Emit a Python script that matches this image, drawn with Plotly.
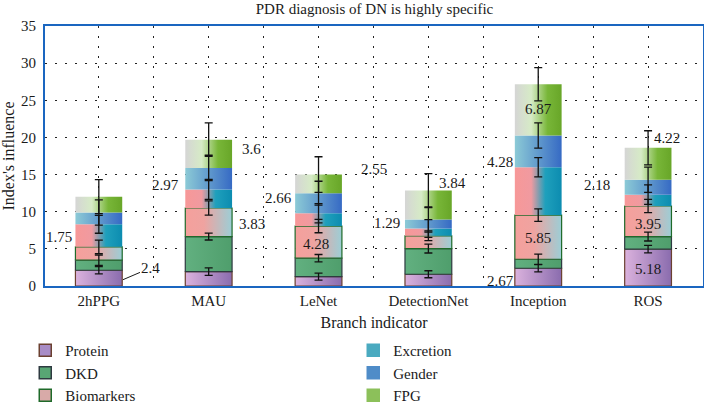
import plotly.graph_objects as go

# categories and stacked segment values (bottom -> top)
categories = ['2hPPG', 'MAU', 'LeNet', 'DetectionNet', 'Inception', 'ROS']
protein = [2.12, 1.93, 1.26, 1.58, 2.39, 4.96]
dkd = [1.35, 4.73, 2.48, 3.46, 1.21, 1.70]
biomarkers = [1.80, 3.84, 4.33, 1.72, 5.95, 4.11]
excretion = [3.03, 2.50, 1.73, 0.98, 6.44, 1.53]
gender = [1.60, 2.90, 2.70, 1.22, 4.28, 2.00]
fpg = [2.13, 3.80, 2.50, 3.88, 6.89, 4.30]

# error bar half-lengths at top of each segment
protein_err = [0.50, 0.50, 0.47, 0.47, 0.50, 0.50]
dkd_err = [0.70, 0.47, 0.50, 0.60, 0.68, 0.60]
biomarkers_err = [0.90, 0.95, 0.90, 0.65, 0.84, 0.90]
excretion_err = [1.20, 1.35, 1.30, 1.20, 1.30, 1.30]
gender_err = [1.70, 1.70, 1.60, 1.70, 1.70, 1.70]
fpg_err = [2.30, 2.25, 2.40, 2.30, 2.25, 2.30]

# value labels as printed on the chart
label_text = ['1.75', '3.6', '2.97', '3.83', '2.66', '4.28', '2.55', '3.84', '1.29',
              '6.87', '4.28', '5.85', '2.67', '4.22', '2.18', '3.95', '5.18']
label_x = [-0.364, 1.393, 0.61, 1.393, 1.64, 1.976, 2.505, 3.224, 2.623,
           4.0, 3.652, 4.0, 3.652, 5.17, 4.535, 5.0, 5.0]
label_y = [6.6, 18.4, 13.65, 8.4, 11.9, 5.7, 15.8, 13.8, 8.5,
           23.8, 16.75, 6.5, 0.68, 19.9, 13.65, 8.4, 2.3]

FONT = 'Liberation Serif, Times New Roman, serif'
half_w = 0.213

series = [
    ('Protein', protein, protein_err, [[0, '#dbb2dd'], [1, '#8a6cae']], '#6b4030', '#a88cc6'),
    ('DKD', dkd, dkd_err, [[0, '#62b080'], [1, '#4f9e6c']], '#2e3a40', '#58a674'),
    ('Biomarkers', biomarkers, biomarkers_err,
     [[0, '#f5a09c'], [0.4, '#efa3a0'], [1, '#9cced6']], '#1f6a2a', '#d8aaa8'),
    ('Excretion', excretion, excretion_err,
     [[0, '#f79898'], [0.35, '#f09aa0'], [0.65, '#1fa0bc'], [1, '#0c8cb0']], None, '#4aaac0'),
    ('Gender', gender, gender_err, [[0, '#8ccad6'], [1, '#366ac4']], None, '#4f8cc8'),
    ('FPG', fpg, fpg_err,
     [[0, '#d5d5d5'], [0.35, '#d6ebc6'], [0.7, '#78b638'], [1, '#68a628']], None, '#8cc05a'),
]

xs = list(range(len(categories)))
fig = go.Figure()

base = [0.0] * len(categories)
tops = []
for name, vals, errs, cscale, border, solid in series:
    for i, v in enumerate(vals):
        x0, x1 = xs[i] - half_w, xs[i] + half_w
        y0, y1 = base[i], base[i] + v
        fig.add_trace(go.Scatter(
            x=[x0, x1, x1, x0, x0], y=[y0, y0, y1, y1, y0],
            mode='lines', fill='toself',
            fillgradient=dict(type='horizontal', colorscale=cscale),
            line=dict(color=border if border else 'rgba(0,0,0,0)', width=1.2 if border else 0),
            showlegend=False, hoverinfo='skip'))
    base = [b + v for b, v in zip(base, vals)]
    tops.append((list(base), errs))

for top, errs in tops:
    fig.add_trace(go.Scatter(
        x=xs, y=top, mode='markers', marker=dict(size=1, opacity=0),
        error_y=dict(type='data', array=errs, color='#111111', thickness=1.3, width=4),
        showlegend=False, hoverinfo='skip'))

# legend entries (two columns: Protein/DKD/Biomarkers, Excretion/Gender/FPG)
order = [0, 3, 1, 4, 2, 5]
for rank, k in enumerate(order):
    name, vals, errs, cscale, border, solid = series[k]
    fig.add_trace(go.Bar(
        x=[None], y=[None], name=name, legendrank=rank,
        marker=dict(color=solid, line=dict(color=border if border else solid, width=1.5))))

for t, x, y in zip(label_text, label_x, label_y):
    fig.add_annotation(x=x, y=y, text=t, showarrow=False,
                       font=dict(family=FONT, size=15, color='#1a1a1a'))

# "2.4" with its leader line
fig.add_annotation(x=0.22, y=0.85, text='2.4', showarrow=True, arrowhead=0,
                   arrowwidth=1, arrowcolor='#1a1a1a', ax=28, ay=-12, standoff=0,
                   font=dict(family=FONT, size=15, color='#1a1a1a'))

grid_dash = '2px,8px'
mids = [i + 0.5 for i in xs[:-1]]
fig.update_layout(
    width=704, height=403,
    margin=dict(l=45, r=1, t=26, b=117, autoexpand=False),
    paper_bgcolor='white', plot_bgcolor='white',
    font=dict(family=FONT, size=15, color='#1a1a1a'),
    title=dict(text='PDR diagnosis of DN is highly specific', x=0.532, xanchor='center',
               y=0.978, yanchor='middle', font=dict(family=FONT, size=15)),
    barmode='overlay',
    xaxis=dict(range=[-0.49, 5.5], tickvals=xs, ticktext=categories,
               showgrid=True, gridcolor='#222222', griddash=grid_dash, gridwidth=1,
               minor=dict(tickvals=mids, showgrid=True, gridcolor='#222222',
                          griddash=grid_dash, gridwidth=1, ticks=''),
               zeroline=False, showline=True, linecolor='#1a66c0', linewidth=2, mirror=True,
               ticks='', tickfont=dict(size=15),
               title=dict(text='Branch indicator', font=dict(size=16), standoff=9)),
    yaxis=dict(range=[0, 35], dtick=5, showgrid=True, gridcolor='#222222',
               griddash=grid_dash, gridwidth=1, zeroline=False,
               showline=True, linecolor='#1a66c0', linewidth=2, mirror=True,
               ticks='', tickfont=dict(size=15), ticklabelstandoff=4,
               title=dict(text="Index's influence", font=dict(size=16), standoff=5)),
    legend=dict(orientation='h', x=-0.03, xanchor='left', y=-0.185, yanchor='top',
                entrywidth=283, entrywidthmode='pixels', tracegroupgap=0,
                font=dict(family=FONT, size=15), bgcolor='rgba(0,0,0,0)'),
    showlegend=True,
)

# page body has a default 8px margin; drop it so the figure fills the window
fig.write_html('out.html', config={'displayModeBar': False},
               post_script="document.body.style.margin='0';")
